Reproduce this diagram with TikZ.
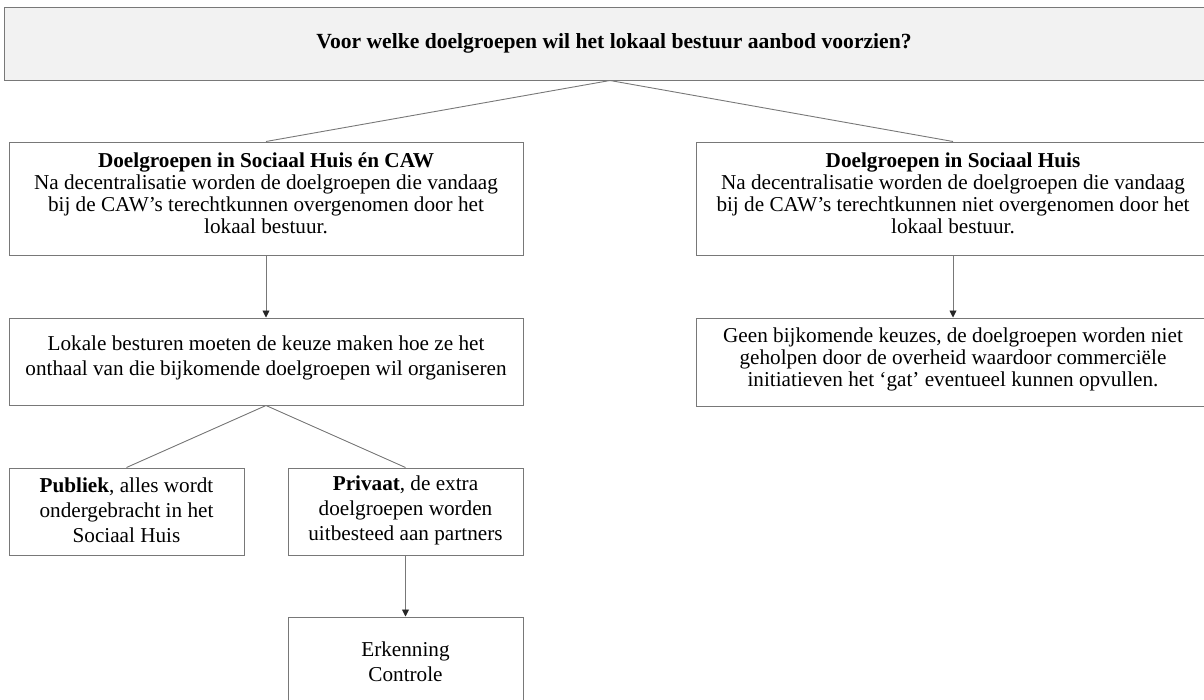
\documentclass[tikz,border=0pt]{standalone}
\usepackage{fontspec}
\setmainfont{Liberation Serif}
\usetikzlibrary{arrows.meta}
\definecolor{lin}{RGB}{120,120,120}
\definecolor{topfill}{RGB}{242,242,242}
\tikzset{
  box/.style={draw=lin, line width=1pt, rectangle, inner sep=0pt},
  txt/.style={align=center, inner sep=0pt, font=\fontsize{21.2}{22}\selectfont},
  txtb/.style={align=center, inner sep=0pt, font=\fontsize{21.2}{24.8}\selectfont},
  conn/.style={draw=lin, line width=0.9pt},
  arr/.style={conn, -{Triangle[length=7pt,width=7pt,color=black!85]}}
}
\begin{document}
\begin{tikzpicture}[x=1pt,y=-1pt]
\useasboundingbox (0,0) rectangle (1204,699);
% top
\node[box, fill=topfill, minimum width=1212, minimum height=73] (top) at (610,43.5) {};
\node[txt, font=\fontsize{21.6}{24}\selectfont\bfseries] (topt) at (614,43) {Voor welke doelgroepen wil het lokaal bestuur aanbod voorzien?};
% level 1
\node[box, minimum width=514, minimum height=113] (l1) at (266,198.5) {};
\node[txt] (l1t) at ([yshift=5]l1.center) {\textbf{Doelgroepen in Sociaal Huis én CAW}\\Na decentralisatie worden de doelgroepen die vandaag\\bij de CAW’s terechtkunnen overgenomen door het\\lokaal bestuur.};
\node[box, minimum width=514, minimum height=113] (r1) at (953,198.5) {};
\node[txt] (r1t) at ([yshift=5]r1.center) {\textbf{Doelgroepen in Sociaal Huis}\\Na decentralisatie worden de doelgroepen die vandaag\\bij de CAW’s terechtkunnen niet overgenomen door het\\lokaal bestuur.};
% level 2
\node[box, minimum width=514, minimum height=87] (l2) at (266,361.5) {};
\node[txtb] (l2t) at ([yshift=3.5]l2.center) {Lokale besturen moeten de keuze maken hoe ze het\\onthaal van die bijkomende doelgroepen wil organiseren};
\node[box, minimum width=514, minimum height=88] (r2) at (953,362) {};
\node[txt] (r2t) at ([yshift=3]r2.center) {Geen bijkomende keuzes, de doelgroepen worden niet\\geholpen door de overheid waardoor commerciële\\initiatieven het ‘gat’ eventueel kunnen opvullen.};
% level 3
\node[box, minimum width=235, minimum height=87] (pub) at (126.5,511.5) {};
\node[txtb] (pubt) at ([yshift=1]pub.center) {\textbf{Publiek}, alles wordt\\ondergebracht in het\\Sociaal Huis};
\node[box, minimum width=235, minimum height=87] (priv) at (405.5,511.5) {};
\node[txtb] (privt) at ([yshift=1]priv.center) {\textbf{Privaat}, de extra\\doelgroepen worden\\uitbesteed aan partners};
% level 4
\node[box, minimum width=235, minimum height=87] (erk) at (405.5,660.5) {};
\node[txtb] (erkt) at ([yshift=-1]erk.center) {Erkenning\\Controle};
% connectors
\draw[conn] (top.south) -- (l1.north);
\draw[conn] (top.south) -- (r1.north);
\draw[arr] (l1.south) -- (l2.north);
\draw[arr] (r1.south) -- (r2.north);
\draw[conn] (l2.south) -- (pub.north);
\draw[conn] (l2.south) -- (priv.north);
\draw[arr] (priv.south) -- (erk.north);
\end{tikzpicture}
\end{document}
